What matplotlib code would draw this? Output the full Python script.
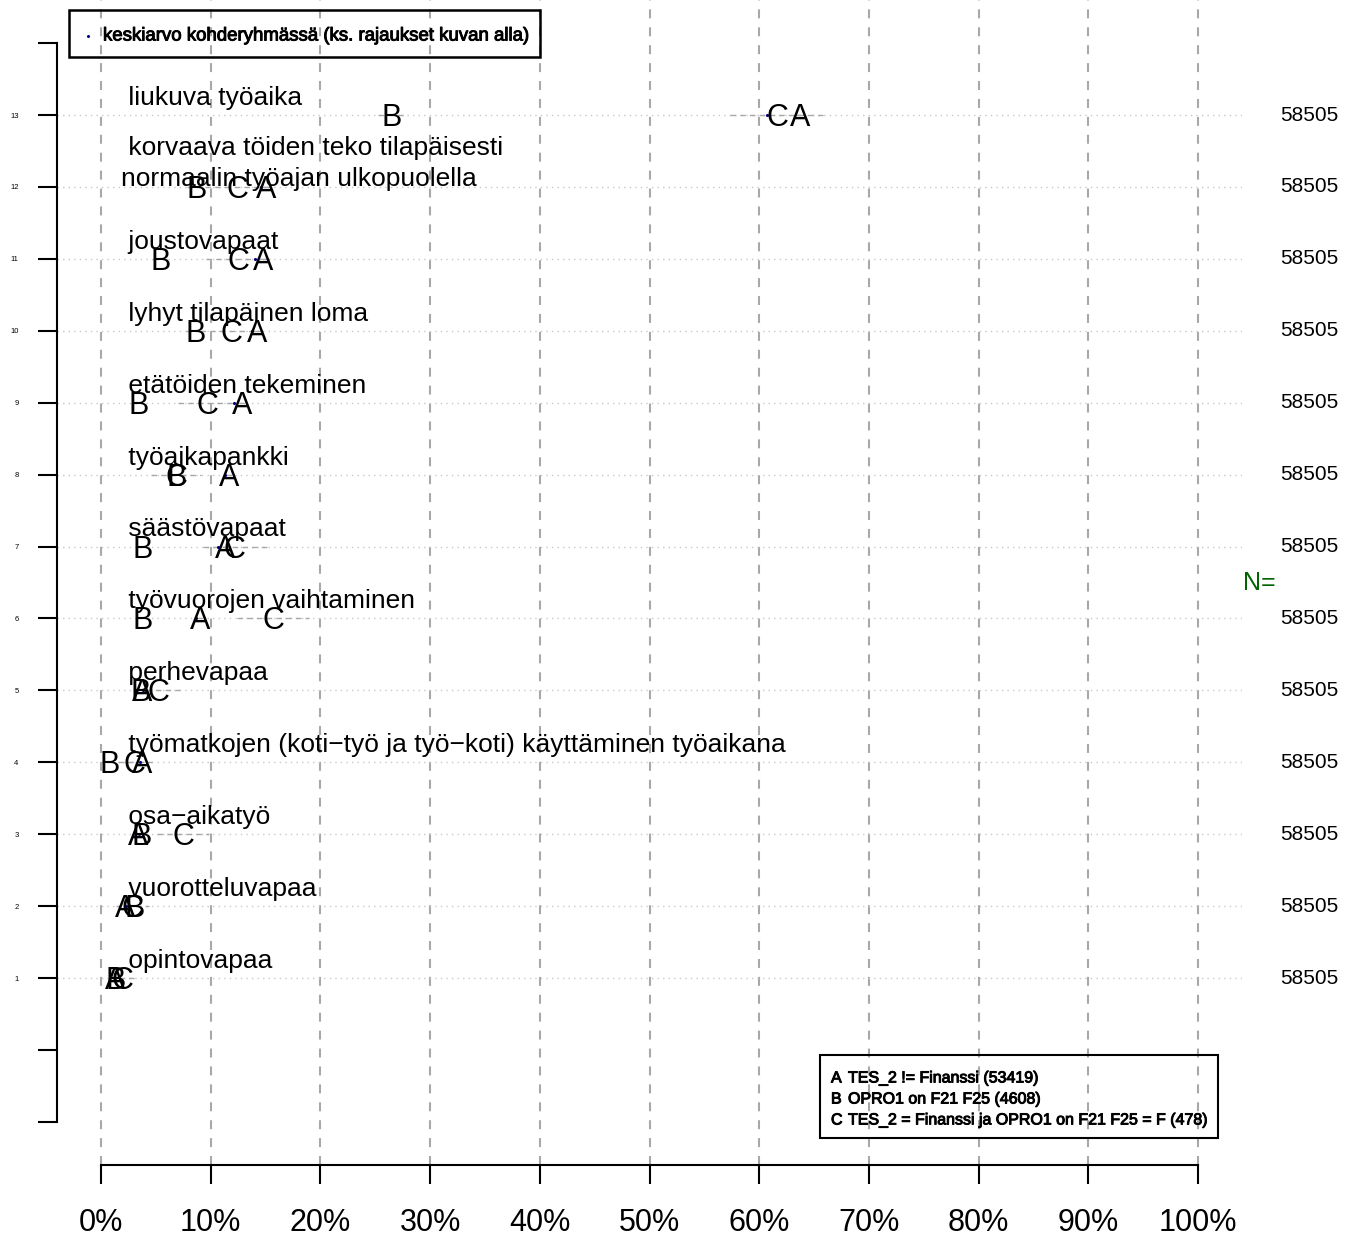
import matplotlib
matplotlib.use("Agg")
import matplotlib.pyplot as plt  # noqa: E402
import matplotlib.patheffects as pe  # noqa: E402
from matplotlib.patches import Rectangle  # noqa: E402
import numpy as np  # noqa: E402

plt.rcParams["font.family"] = ["Liberation Sans", "DejaVu Sans"]

# rows from bottom (1) to top (13)
ITEMS = [
    "opintovapaa",
    "vuorotteluvapaa",
    "osa\u2212aikatyö",
    "työmatkojen (koti\u2212työ ja työ\u2212koti) käyttäminen työaikana",
    "perhevapaa",
    "työvuorojen vaihtaminen",
    "säästövapaat",
    "työaikapankki",
    "etätöiden tekeminen",
    "lyhyt tilapäinen loma",
    "joustovapaat",
    "korvaava töiden teko tilapäisesti\nnormaalin työajan ulkopuolella",
    "liukuva työaika",
]
PCT_A = [1.3, 2.2, 3.4, 3.8, 3.8, 9.0, 11.3, 11.7, 12.9, 14.2, 14.8, 15.1, 63.7]
PCT_B = [1.3, 3.1, 3.7, 0.8, 3.6, 3.8, 3.8, 6.9, 3.4, 8.6, 5.4, 8.7, 26.5]
PCT_C = [2.0, 2.9, 7.5, 3.1, 5.2, 15.7, 12.2, 6.85, 9.7, 11.9, 12.5, 12.4, 61.7]
ROW_N = [58505] * 13

GROUPS = ["A", "B", "C"]
GROUP_DESC = [
    "TES_2 != Finanssi",
    "OPRO1 on F21 F25",
    "TES_2 = Finanssi ja OPRO1 on F21 F25 = F",
]
GROUP_N = [53419, 4608, 478]
X_TICKS = list(range(0, 101, 10))
MEAN_LABEL = "keskiarvo kohderyhmässä (ks. rajaukset kuvan alla)"

W, H = 1354, 1236
fig = plt.figure(figsize=(W / 100, H / 100), dpi=100)
ax = fig.add_axes([57 / W, 1 - 1165 / H, 1185 / W, 1165 / H])
ax.set_xlim(-4, 104)
ax.set_ylim(-1.6, 14.6)

rows = np.arange(1, len(ITEMS) + 1)
pcts = [np.array(PCT_A), np.array(PCT_B), np.array(PCT_C)]

# grid
for x in X_TICKS:
    ax.axvline(x, color="#a8a8a8", lw=1.5, ls=(0, (4.3, 4.3)), zorder=1)
for y in rows:
    ax.axhline(y, color="#c8c8c8", lw=1.0, ls=(0, (1, 3)), zorder=1)

# confidence intervals (gray dashed) behind letters
for p, n in zip(pcts, GROUP_N):
    half = 1.96 * np.sqrt(p / 100 * (1 - p / 100) / n) * 100
    ax.hlines(rows, p - half, p + half, color="#a8a8a8", lw=1.0,
              ls=(0, (4, 3)), zorder=2)

# mean in whole target group
total = sum(GROUP_N)
mean = sum(p * n for p, n in zip(pcts, GROUP_N)) / total
ax.scatter(mean, rows, s=1.5, color="#00008b", zorder=3)

for g, p in zip(GROUPS, pcts):
    for y, v in zip(rows, p):
        ax.text(v, y - 0.153, g, ha="center", va="baseline", fontsize=22,
                zorder=4)

for y, label in zip(rows, ITEMS):
    ax.text(1.8, y + 0.14 if "\n" not in label else y + 0.01, " " + label,
            ha="left", va="baseline", fontsize=19, zorder=5, linespacing=1.4)

# N column on the right
trans = ax.get_yaxis_transform()
for y, n in zip(rows, ROW_N):
    ax.text(1.0565, y, str(n), transform=trans, ha="center", va="center",
            fontsize=15, clip_on=False)
ax.text(1.015, 6.5, "N=", transform=trans, ha="center", va="center",
        fontsize=18, color="#006400", clip_on=False)

# axes
for s in ("top", "right"):
    ax.spines[s].set_visible(False)
ax.spines["left"].set_bounds(-1, 14)
ax.spines["bottom"].set_bounds(0, 100)
ax.spines["left"].set_linewidth(1.5)
ax.spines["bottom"].set_linewidth(1.5)
ax.set_xticks(X_TICKS)
ax.set_xticklabels([f"{x}%" for x in X_TICKS], fontsize=22)
ax.tick_params(axis="x", length=13.7, width=1.5, pad=17)
yt = list(range(-1, 15))
ax.set_yticks(yt)
ax.set_yticklabels([str(v) if 1 <= v <= 13 else "" for v in yt], fontsize=5.5)
ax.tick_params(axis="y", length=13.7, width=1.5, pad=14)

# top legend (mean marker)
bold = [pe.withStroke(linewidth=0.7, foreground="black")]
fig.add_artist(Rectangle((69 / W, 1 - 57 / H), 471 / W, 47 / H, fill=False,
                         ec="black", lw=1.8, transform=fig.transFigure))
fig.add_artist(plt.Line2D([88 / W], [1 - 36 / H], marker="o", ms=1.2,
                          color="#00008b", transform=fig.transFigure))
fig.text(103 / W, 1 - 36 / H, MEAN_LABEL, ha="left", va="center",
         fontsize=13.4, path_effects=bold)

# bottom legend (groups)
fig.add_artist(Rectangle((820 / W, 1 - 1138 / H), 398 / W, 83 / H, fill=False,
                         ec="black", lw=1.5, transform=fig.transFigure))
for i, (g, d, n) in enumerate(zip(GROUPS, GROUP_DESC, GROUP_N)):
    yy = 1 - (1078 + 21 * i) / H
    fig.text(831 / W, yy, g, ha="left", va="center", fontsize=11.5,
             path_effects=bold)
    fig.text(848 / W, yy, f"{d} ({n})", ha="left", va="center",
             fontsize=11.5, path_effects=bold)

fig.savefig("out.png", dpi=100)
